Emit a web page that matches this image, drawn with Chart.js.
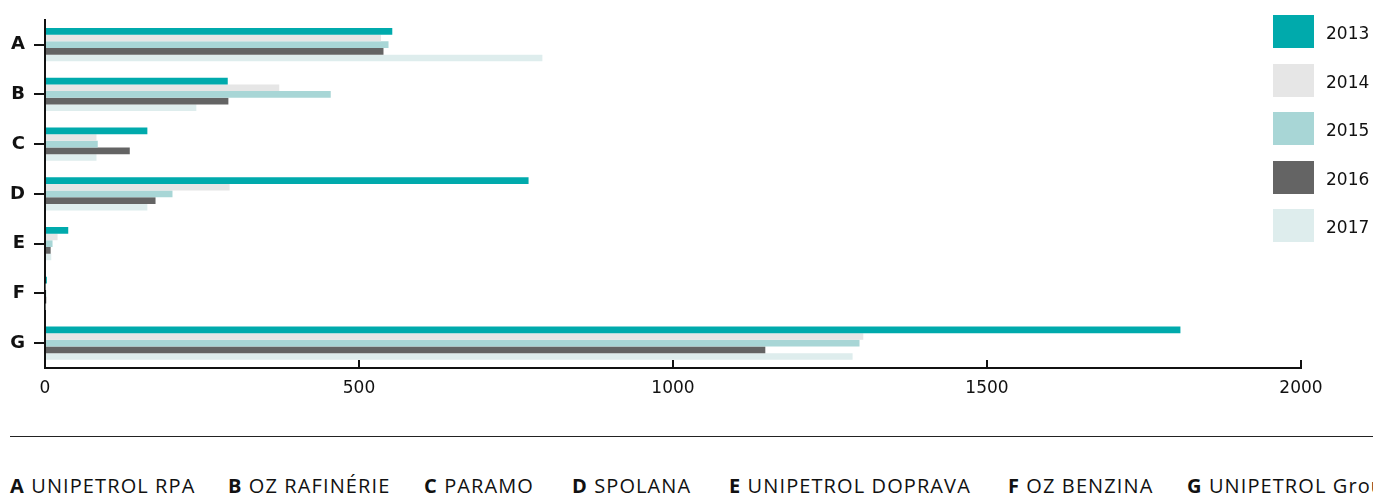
<!DOCTYPE html>
<html><head><meta charset="utf-8">
<script src="https://cdn.jsdelivr.net/npm/chart.js@4/dist/chart.umd.min.js"></script>
<style>
html,body{margin:0;padding:0;background:#fff;width:1373px;height:497px;overflow:hidden;position:relative;font-family:"DejaVu Sans",sans-serif;}
#wrap{position:absolute;left:0;top:0;width:1373px;height:420px;}
#legend{position:absolute;left:1273px;top:15px;}
.li{display:flex;align-items:center;height:33px;margin-bottom:15.5px;}
.sw{width:41px;height:33px;}
.lt{margin-left:12px;font-size:17px;color:#111;padding-top:3px;}
#sep{position:absolute;left:10px;top:436px;width:1363px;height:1px;background:#222;}
#names{position:absolute;top:472px;left:0;width:1373px;height:25px;overflow:hidden;font-family:"Open Sans",sans-serif;font-size:20px;letter-spacing:1.1px;color:#111;white-space:nowrap;}
.nm{position:absolute;top:0;line-height:normal;}
.nm b{font-weight:700;}
</style>
</head><body>
<div id="wrap"><canvas id="c" width="1373" height="420"></canvas></div>
<div id="legend"></div>
<div id="sep"></div>
<div id="names"></div>
<script>
const categories = ['A','B','C','D','E','F','G'];
const companyNames = ['UNIPETROL RPA','OZ RAFINÉRIE','PARAMO','SPOLANA','UNIPETROL DOPRAVA','OZ BENZINA','UNIPETROL Group'];
const years = ['2013','2014','2015','2016','2017'];
const v2013 = [553, 291, 163, 770, 37, 3, 1808];
const v2014 = [535, 373, 82, 294, 20, 1, 1303];
const v2015 = [547, 455, 84, 203, 12, 2, 1297];
const v2016 = [539, 292, 135, 176, 9, 2, 1147];
const v2017 = [792, 241, 82, 163, 10, 1, 1286];
const xTicks = [0, 500, 1000, 1500, 2000];

const series = [v2013, v2014, v2015, v2016, v2017];
const colors = ['#00aaac', '#e6e6e6', '#a8d6d6', '#646464', '#deeded'];
const namePos = [10, 228, 424, 572, 729, 1008, 1187];

const chart = new Chart(document.getElementById('c'), {
  type: 'bar',
  data: {
    labels: categories,
    datasets: years.map((y, i) => ({
      label: y, data: series[i], backgroundColor: colors[i], borderWidth: 0,
      categoryPercentage: 0.67, barPercentage: 1
    }))
  },
  options: {
    indexAxis: 'y', responsive: false, animation: false, devicePixelRatio: 1,
    layout: { padding: { top: 16, right: 72, left: 0, bottom: 0 } },
    plugins: { legend: { display: false }, tooltip: { enabled: false } },
    scales: {
      x: {
        min: xTicks[0], max: xTicks[xTicks.length - 1],
        afterBuildTicks: (s) => { s.ticks = xTicks.map(v => ({ value: v })); },
        ticks: { padding: 18, color: '#111', maxRotation: 0, font: { family: 'DejaVu Sans', size: 17 },
                 callback: (v) => String(v) },
        grid: { drawOnChartArea: false, drawTicks: true, tickLength: -8, color: '#111', lineWidth: 2 },
        border: { display: true, color: '#111', width: 2 },
        afterFit: (s) => { s.height = 52; }
      },
      y: {
        ticks: { padding: 9, color: '#111', font: { family: 'DejaVu Sans', size: 18, weight: 'bold' } },
        grid: { offset: false, drawOnChartArea: false, drawTicks: true, tickLength: 11, color: '#111', lineWidth: 2 },
        border: { display: true, color: '#111', width: 2 },
        afterFit: (s) => { s.width = 45; }
      }
    }
  }
});

const leg = document.getElementById('legend');
chart.data.datasets.forEach(ds => {
  const d = document.createElement('div'); d.className = 'li';
  const sw = document.createElement('div'); sw.className = 'sw'; sw.style.background = ds.backgroundColor;
  const t = document.createElement('div'); t.className = 'lt'; t.textContent = ds.label;
  d.appendChild(sw); d.appendChild(t); leg.appendChild(d);
});
const nm = document.getElementById('names');
categories.forEach((c, i) => {
  const s = document.createElement('span'); s.className = 'nm'; s.style.left = namePos[i] + 'px';
  const b = document.createElement('b'); b.textContent = c;
  s.appendChild(b); s.appendChild(document.createTextNode(' ' + companyNames[i]));
  nm.appendChild(s);
});
</script>
</body></html>
